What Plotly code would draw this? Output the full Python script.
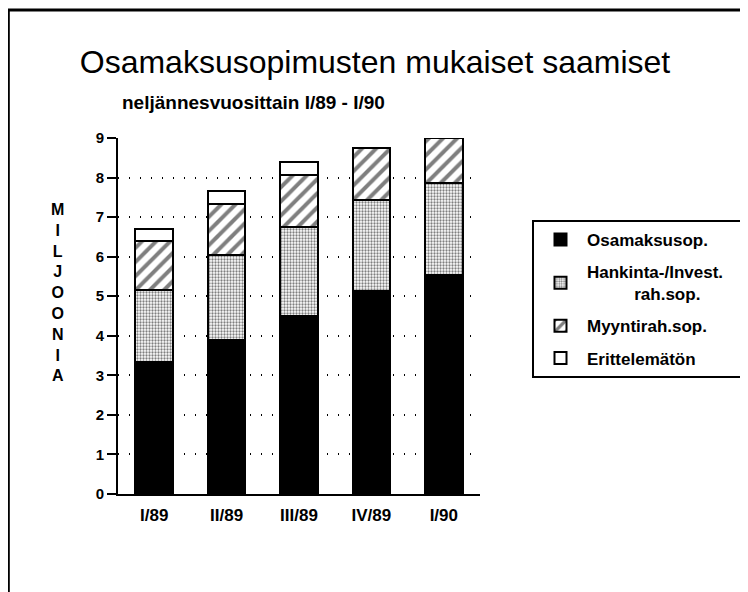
import plotly.graph_objects as go

# ---- data ----
quarters = ["I/89", "II/89", "III/89", "IV/89", "I/90"]
osamaksusop = [3.34, 3.89, 4.51, 5.14, 5.54]
hankinta = [1.82, 2.15, 2.23, 2.29, 2.33]
myyntirah = [1.24, 1.28, 1.32, 1.31, 1.13]
erittelematon = [0.29, 0.35, 0.34, 0.0, 0.0]
series_names = ["Osamaksusop.",
                "Hankinta-/Invest." + "\u00a0" * 3 + "<br>" + "\u00a0" * 10 + "rah.sop.",
                "Myyntirah.sop.", "Erittelemätön"]
y_ticks = list(range(0, 10))
title_text = "Osamaksusopimusten mukaiset saamiset"
subtitle_text = "neljännesvuosittain I/89 - I/90"
y_title_letters = list("MILJOONIA")

W, H = 748, 592
OFF = 8  # the page body margin shifts the figure by this many pixels
# plot area in page pixels: x 118..481, y 138..494
ML, MT = 118 - OFF, 138 - OFF
MR = W - (481 - OFF)
MB = H - (494 - OFF)
PW, PH = W - ML - MR, H - MT - MB


def px(x):
    return (x - OFF - ML) / PW


def py(y):
    return (H - MB - (y - OFF)) / PH


FONT = "Liberation Sans, Arial, Helvetica, sans-serif"
line = dict(color="black", width=2)

fig = go.Figure()
fig.add_trace(go.Bar(x=quarters, y=osamaksusop, name=series_names[0],
                     marker=dict(color="black", line=line), legendgroup="a"))
fig.add_trace(go.Bar(x=quarters, y=hankinta, name=series_names[1],
                     marker=dict(color="white", line=line,
                                 pattern=dict(shape=".", fgcolor="black", bgcolor="white",
                                              size=3, solidity=0.45)), legendgroup="b"))
fig.add_trace(go.Bar(x=quarters, y=myyntirah, name=series_names[2],
                     marker=dict(color="white", line=line,
                                 pattern=dict(shape="/", fgcolor="black", bgcolor="white",
                                              size=10, solidity=0.4)), legendgroup="c"))
fig.add_trace(go.Bar(x=quarters, y=erittelematon, name=series_names[3],
                     marker=dict(color="white", line=line), legendgroup="d"))

fig.update_layout(
    width=W, height=H,
    margin=dict(l=ML, r=MR, t=MT, b=MB, pad=0),
    paper_bgcolor="white", plot_bgcolor="white",
    barmode="stack", bargap=0.48,
    font=dict(family=FONT, color="black"),
    title=dict(text=title_text, x=(375 - OFF) / W, xref="container", xanchor="center",
               y=1 - (62 - OFF) / H, yanchor="middle",
               font=dict(size=32, family=FONT, color="black")),
    showlegend=True,
    legend=dict(x=px(532), y=py(220), xanchor="left", yanchor="top",
                bordercolor="black", borderwidth=2, bgcolor="white",
                font=dict(size=17, family=FONT, color="black", weight="bold"),
                traceorder="grouped", tracegroupgap=7, itemwidth=43),
)

fig.update_yaxes(range=[0, 9], tickvals=y_ticks, showline=True, linewidth=2, linecolor="black",
                 ticks="outside", ticklen=9, tickwidth=2, tickcolor="black",
                 showgrid=True, gridcolor="black", gridwidth=2, griddash="1px,10px",
                 zeroline=False,
                 tickfont=dict(size=15, family=FONT, color="black", weight="bold"))
fig.update_xaxes(showline=True, linewidth=2, linecolor="black", ticks="",
                 ticklabelstandoff=5, showgrid=False,
                 tickfont=dict(size=17, family=FONT, color="black", weight="bold"))

fig.add_annotation(text=subtitle_text, xref="paper", yref="paper",
                   x=px(120), y=py(102), xanchor="left", yanchor="middle", showarrow=False,
                   font=dict(size=19, family=FONT, color="black", weight="bold"))
fig.add_annotation(text="<br>".join(y_title_letters), xref="paper", yref="paper",
                   x=px(57), y=py(292), xanchor="center", yanchor="middle", showarrow=False,
                   font=dict(size=16, family=FONT, color="black", weight="bold"))

# outer frame of the page
fig.add_shape(type="rect", xref="paper", yref="paper",
              x0=px(8), x1=px(W + 20), y0=py(H + 20), y1=py(10),
              line=dict(color="black", width=3), fillcolor="rgba(0,0,0,0)", layer="below")

fig.write_html("out.html")
